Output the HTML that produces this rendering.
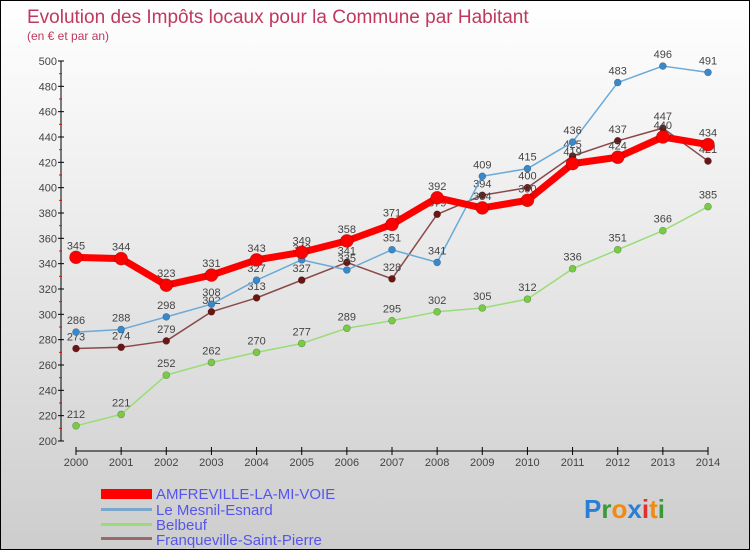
<!DOCTYPE html>
<html><head><meta charset="utf-8">
<style>
body{margin:0;}
#wrap{width:748px;height:548px;border:1px solid #000;position:relative;background:linear-gradient(#fff,#ececec 40%,#cdcdcd);font-family:"Liberation Sans",sans-serif;overflow:hidden}
svg{position:absolute;left:0;top:0}
</style></head><body>
<div id="wrap">
<svg id="chart" width="750" height="550">
<text x="26" y="22" font-size="19" fill="#c0385e">Evolution des Impôts locaux pour la Commune par Habitant</text>
<text x="26" y="39" font-size="12" fill="#c0385e">(en € et par an)</text>
<g id="axes"></g><g id="series"></g>
<g>
<rect x="100" y="488" width="51" height="10" fill="#f00"/>
<text x="155" y="498" font-size="15" fill="#5555ee">AMFREVILLE-LA-MI-VOIE</text>
<rect x="100" y="507" width="51" height="3" fill="#7aa7cc"/>
<text x="155" y="514" font-size="15" fill="#5555ee">Le Mesnil-Esnard</text>
<rect x="100" y="522" width="51" height="3" fill="#99dd77"/>
<text x="155" y="529" font-size="15" fill="#5555ee">Belbeuf</text>
<rect x="100" y="536" width="51" height="3" fill="#9a6a6a"/>
<text x="155" y="544" font-size="15" fill="#5555ee">Franqueville-Saint-Pierre</text>
</g>
<text x="583" y="517" font-size="26" font-weight="bold"><tspan fill="#2a7fd4">P</tspan><tspan fill="#3a9a3a">r</tspan><tspan fill="#f08a10">o</tspan><tspan fill="#2a7fd4">x</tspan><tspan fill="#e03030">i</tspan><tspan fill="#f08a10">t</tspan><tspan fill="#3a9a3a">i</tspan></text>
</svg>
</div>
<script>
const years=[2000,2001,2002,2003,2004,2005,2006,2007,2008,2009,2010,2011,2012,2013,2014];
const yTicks=[200,220,240,260,280,300,320,340,360,380,400,420,440,460,480,500];
const amfreville=[345,344,323,331,343,349,358,371,392,384,390,419,424,440,434];
const mesnil=[286,288,298,308,327,343,335,351,341,409,415,436,483,496,491];
const belbeuf=[212,221,252,262,270,277,289,295,302,305,312,336,351,366,385];
const franqueville=[273,274,279,302,313,327,341,328,379,394,400,425,437,447,421];
const NS="http://www.w3.org/2000/svg";
const xS=i=>75+i*(632/14);
const yS=v=>440-(v-200)*(380/300);
function mk(t,a,p){const e=document.createElementNS(NS,t);for(const k in a)e.setAttribute(k,a[k]);p.appendChild(e);return e;}
const ax=document.getElementById('axes');
const yl=mk('line',{x1:60,y1:60,x2:60,y2:440,stroke:'#000','stroke-width':1},ax);


const xl=mk('line',{x1:75,y1:450,x2:707,y2:450,stroke:'#000','stroke-width':1},ax);


yTicks.forEach(v=>{
  mk('line',{x1:57,y1:yS(v),x2:63,y2:yS(v),stroke:'#000'},ax);
  if(v<500)mk('line',{x1:58,y1:yS(v+10),x2:61,y2:yS(v+10),stroke:'#f00'},ax);
  const t=mk('text',{x:56,y:yS(v)+4,'font-size':11,fill:'#444','text-anchor':'end'},ax);
  t.textContent=v;
  
  
});
years.forEach((y,i)=>{
  mk('line',{x1:xS(i),y1:446,x2:xS(i),y2:454,stroke:'#000'},ax);
  const t=mk('text',{x:xS(i),y:465,'font-size':11,fill:'#444','text-anchor':'middle'},ax);
  t.textContent=y;
  
  
});
const sg=document.getElementById('series');
function draw(data,name,color,dot,w,r){
  const g=mk('g',{},sg);
  
  
  const pl=mk('polyline',{points:data.map((v,i)=>xS(i)+','+yS(v)).join(' '),fill:'none',stroke:color,'stroke-width':w,'stroke-linejoin':'round'},g);
  
  
  data.forEach((v,i)=>{
    const c=mk('circle',{cx:xS(i),cy:yS(v),r:r,fill:dot,stroke:'rgba(0,0,0,0.3)','stroke-width':0.6},g);
    
    
    const t=mk('text',{x:xS(i),y:yS(v)-8,'font-size':11,fill:'#444','text-anchor':'middle'},g);
    t.textContent=v;
    
    
  });
}
draw(belbeuf,'belbeuf','#99dd77','#77cc44',1.5,3.5);
draw(franqueville,'franqueville','#8b4a4a','#6b1515',1.5,3.5);
draw(mesnil,'mesnil','#6aaad8','#3a88cc',1.5,3.5);
draw(amfreville,'amfreville','#f00','#f00',7,6.5);
</script>
</body></html>
